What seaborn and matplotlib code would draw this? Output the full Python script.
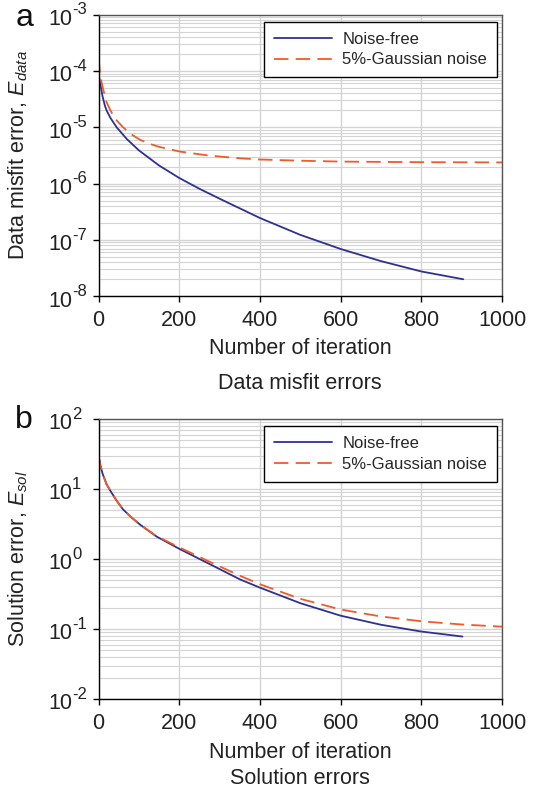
import numpy as np
import pandas as pd
import matplotlib
matplotlib.use("Agg")
import matplotlib.pyplot as plt
from matplotlib.ticker import LogLocator, FixedLocator, NullFormatter
import seaborn as sns

# ---------------- data ----------------
series_names = ["Noise-free", "5%-Gaussian noise"]

# Panel a: data misfit error
a_free_iter = [0, 5, 10, 16, 20, 30, 45, 70, 100, 150, 200, 250, 300, 400, 500, 600, 700, 800, 904]
a_free_err = [8.9e-5, 5.6e-5, 3.55e-5, 2.4e-5, 2.0e-5, 1.45e-5, 1.0e-5, 6.2e-6, 3.9e-6, 2.1e-6,
              1.26e-6, 8.1e-7, 5.4e-7, 2.45e-7, 1.23e-7, 6.9e-8, 4.2e-8, 2.75e-8, 2.0e-8]
a_noise_iter = [0, 5, 12, 20, 28, 40, 61, 80, 103, 130, 150, 202, 276, 350, 400, 500, 600, 800, 1000]
a_noise_err = [1.7e-4, 7.6e-5, 4.6e-5, 2.8e-5, 2.1e-5, 1.45e-5, 1.0e-5, 7.6e-6, 6.0e-6, 5.0e-6,
               4.5e-6, 3.7e-6, 3.13e-6, 2.82e-6, 2.68e-6, 2.55e-6, 2.46e-6, 2.4e-6, 2.38e-6]

# Panel b: solution error
b_free_iter = [0, 5, 10, 20, 30, 45, 61, 80, 103, 144, 202, 268, 351, 400, 500, 600, 700, 800, 902]
b_free_err = [30, 21.4, 16.6, 11.7, 9.3, 6.8, 5.1, 4.0, 3.1, 2.09, 1.38, 0.89, 0.51, 0.39,
              0.234, 0.155, 0.115, 0.092, 0.078]
b_noise_iter = [0, 5, 10, 20, 30, 45, 61, 80, 103, 144, 202, 268, 351, 400, 500, 600, 700, 800, 900, 1000]
b_noise_err = [30, 21.4, 16.6, 11.7, 9.3, 6.8, 5.1, 4.0, 3.1, 2.12, 1.45, 0.955, 0.575, 0.436,
               0.27, 0.19, 0.151, 0.129, 0.116, 0.108]

x_ticks = [0, 200, 400, 600, 800, 1000]
a_exponents = [-8, -7, -6, -5, -4, -3]
b_exponents = [-2, -1, 0, 1, 2]

# ---------------- style ----------------
sns.set_theme(style="white")
plt.rcParams["font.family"] = ["Liberation Sans", "DejaVu Sans"]
plt.rcParams["mathtext.fontset"] = "custom"
plt.rcParams["mathtext.rm"] = "Liberation Sans"
plt.rcParams["mathtext.it"] = "Liberation Sans:italic"
plt.rcParams["mathtext.default"] = "regular"
plt.rcParams["axes.unicode_minus"] = False

BLUE = "#2e3192"
RED = "#f15a29"
GRID = "#d4d4d4"
TXT = "#222222"
FS = 15.5
palette = {series_names[0]: BLUE, series_names[1]: RED}
dashes = {series_names[0]: "", series_names[1]: (8, 4)}

fig = plt.figure(figsize=(5.38, 7.90), dpi=100)
L, R = 98.5 / 538, 502 / 538
ax_a = fig.add_axes([L, 1 - 296.2 / 790, R - L, (296.2 - 14.7) / 790])
ax_b = fig.add_axes([L, 1 - 699 / 790, R - L, (699 - 419) / 790])


def make_df(xf, yf, xn, yn):
    d1 = pd.DataFrame({"iter": xf, "err": yf, "series": series_names[0]})
    d2 = pd.DataFrame({"iter": xn, "err": yn, "series": series_names[1]})
    return pd.concat([d1, d2], ignore_index=True)


def style_axes(ax, exponents, ylabel, xlabel_y, axh_px):
    ax.set_yscale("log")
    ax.set_xlim(0, 1000)
    ax.set_ylim(10.0 ** exponents[0], 10.0 ** exponents[-1])
    ax.xaxis.set_major_locator(FixedLocator(x_ticks))
    ax.yaxis.set_major_locator(FixedLocator([10.0 ** e for e in exponents]))
    ax.yaxis.set_major_formatter(NullFormatter())
    ax.yaxis.set_minor_locator(LogLocator(base=10, subs=np.arange(2, 10), numticks=20))
    ax.yaxis.set_minor_formatter(NullFormatter())
    ax.grid(True, axis="x", which="major", color=GRID, lw=1.0)
    ax.grid(True, axis="y", which="major", color=GRID, lw=1.0)
    ax.grid(True, axis="y", which="minor", color=GRID, lw=0.8)
    ax.set_axisbelow(True)
    for s in ["left", "bottom"]:
        ax.spines[s].set_color("black")
        ax.spines[s].set_linewidth(1.0)
    for s in ["top", "right"]:
        ax.spines[s].set_color("#555555")
        ax.spines[s].set_linewidth(1.0)
    ax.tick_params(axis="both", which="major", direction="out", length=4, width=1,
                   color="black", labelsize=FS, labelcolor=TXT,
                   left=True, bottom=True)
    ax.tick_params(axis="x", which="major", pad=6)
    ax.tick_params(axis="y", which="minor", length=0)
    # y tick labels: "10" with a raised exponent
    ytr = ax.get_yaxis_transform()
    for e in exponents:
        ax.annotate("10", xy=(0, 10.0 ** e), xycoords=ytr, xytext=(-19, -3.5),
                    textcoords="offset points", ha="right", va="center",
                    fontsize=FS, color=TXT, annotation_clip=False)
        ax.annotate(str(e), xy=(0, 10.0 ** e), xycoords=ytr, xytext=(-19, 3.5),
                    textcoords="offset points", ha="left", va="center",
                    fontsize=12, color=TXT, annotation_clip=False)
    ax.set_ylabel(ylabel, fontsize=FS, color=TXT)
    ax.yaxis.set_label_coords(-0.17, 0.5)
    ax.set_xlabel("Number of iteration", fontsize=FS, color=TXT)
    ax.xaxis.set_label_coords(0.5, xlabel_y)
    leg = ax.legend(loc="upper right", bbox_to_anchor=(1 - 5 / 403.5, 1 - 7.3 / axh_px),
                    fontsize=12, frameon=True, fancybox=False,
                    edgecolor="black", framealpha=1, handlelength=3.5, handletextpad=0.6,
                    borderaxespad=0, borderpad=0.6, labelspacing=0.32)
    leg.get_frame().set_linewidth(1.0)


df_a = make_df(a_free_iter, a_free_err, a_noise_iter, a_noise_err)
sns.lineplot(data=df_a, x="iter", y="err", hue="series", style="series",
             palette=palette, dashes=dashes, lw=1.3, ax=ax_a, sort=True,
             estimator=None)
style_axes(ax_a, a_exponents, "Data misfit error, $\\it{E}_{\\it{data}}$", -0.15, 281.5)

df_b = make_df(b_free_iter, b_free_err, b_noise_iter, b_noise_err)
sns.lineplot(data=df_b, x="iter", y="err", hue="series", style="series",
             palette=palette, dashes=dashes, lw=1.3, ax=ax_b, sort=True,
             estimator=None)
style_axes(ax_b, b_exponents, "Solution error, $\\it{E}_{\\it{sol}}$", -0.155, 280)

cx = (98.5 + 502) / 2 / 538
fig.text(cx, 1 - 384 / 790, "Data misfit errors", ha="center", va="center",
         fontsize=FS, color=TXT)
fig.text(cx, 1 - 778 / 790, "Solution errors", ha="center", va="center",
         fontsize=FS, color=TXT)
fig.text(25 / 538, 1 - 18 / 790, "a", ha="center", va="center", fontsize=23, color="#111111")
fig.text(24 / 538, 1 - 420 / 790, "b", ha="center", va="center", fontsize=23, color="#111111")

fig.savefig("out.png", dpi=100)
